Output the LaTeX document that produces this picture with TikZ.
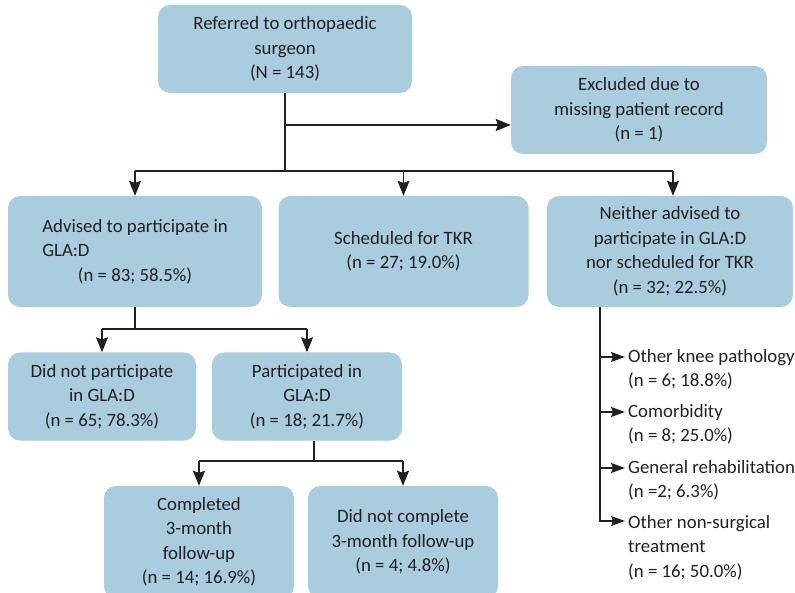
\documentclass[tikz,border=0pt]{standalone}
\usepackage{fontspec}
\setmainfont{Carlito}
\usepackage{calc}
\usetikzlibrary{arrows.meta}
\definecolor{boxblue}{HTML}{A9CCDF}
\definecolor{ink}{HTML}{231F20}
\begin{document}
\begin{tikzpicture}[x=1pt,y=-1pt,
  box/.style={fill=boxblue, rounded corners=12pt, align=center, text=ink, inner sep=0pt,
              font=\fontsize{18.8}{24.5}\selectfont},
  item/.style={anchor=west, align=left, text=ink, inner sep=0pt,
              font=\fontsize{18.8}{24.5}\selectfont},
  line/.style={draw=ink, line width=1.4pt},
  arr/.style={line, -{Stealth[length=15pt,width=12pt,inset=2pt]}},
  arrtwo/.style={line, -{Stealth[length=14pt,width=10pt,inset=2pt]}, shorten >=3pt}]
\useasboundingbox (0,0) rectangle (795,593);
\clip (0,0) rectangle (795,593);
% boxes
\node[box, minimum width=254, minimum height=88] (top) at (285,49) {Referred to orthopaedic\\surgeon\\(N = 143)};
\node[box, minimum width=256, minimum height=88] (excl) at (639,110) {Excluded due to\\missing patient record\\(n = 1)};
\node[box, minimum width=254, minimum height=111] (adv) at (135,251.5) {Advised to participate in\\\makebox[\widthof{Advised to participate in}][l]{GLA:D}\\(n = 83; 58.5\%)};
\node[box, minimum width=250, minimum height=111] (tkr) at (403.5,251.5) {Scheduled for TKR\\(n = 27; 19.0\%)};
\node[box, minimum width=246, minimum height=111] (nei) at (670,251.5) {Neither advised to\\participate in GLA:D\\nor scheduled for TKR\\(n = 32; 22.5\%)};
\node[box, minimum width=188, minimum height=88] (notp) at (102,396.5) {Did not participate\\in GLA:D\\(n = 65; 78.3\%)};
\node[box, minimum width=190, minimum height=88] (part) at (307,396.5) {Participated in\\GLA:D\\(n = 18; 21.7\%)};
\node[box, minimum width=190, minimum height=112] (comp) at (199,542) {Completed\\3-month\\follow-up\\(n = 14; 16.9\%)};
\node[box, minimum width=190, minimum height=112] (notc) at (403,542) {Did not complete\\3-month follow-up\\(n = 4; 4.8\%)};
% right list
\node[item] (k1) at (628,369.5) {Other knee pathology\\(n = 6; 18.8\%)};
\node[item] (k2) at (628,424.5) {Comorbidity\\(n = 8; 25.0\%)};
\node[item] (k3) at (628,480.5) {General rehabilitation\\(n =2; 6.3\%)};
\node[item] (k4) at (628,547.5) {Other non-surgical\\treatment\\(n = 16; 50.0\%)};
% connectors: top level
\coordinate (h1) at (285,125);
\coordinate (h2) at (285,171);
\draw[line] (top.south) -- (h2);
\draw[arr] (h1) -- (h1 -| excl.west);
\coordinate (dA) at (135,171);
\coordinate (dB) at (403.5,171);
\coordinate (dC) at (673,171);
\draw[line] (dA) -- (dC);
\draw[arr] (dA) -- (dA |- adv.north);
\draw[arr] (dB) -- (dB |- tkr.north);
\draw[arr] (dC) -- (dC |- nei.north);
% advised split
\coordinate (sA) at (135,329);
\draw[line] (adv.south) -- (sA);
\draw[line] (notp.north |- sA) -- (part.north |- sA);
\draw[arr] (notp.north |- sA) -- (notp.north);
\draw[arr] (part.north |- sA) -- (part.north);
% participated split
\coordinate (sE) at (314,461);
\draw[line] (sE |- part.south) -- (sE);
\draw[line] (comp.north |- sE) -- (notc.north |- sE);
\draw[arr] (comp.north |- sE) -- (comp.north);
\draw[arr] (notc.north |- sE) -- (notc.north);
% right list connectors
\coordinate (b1) at (600,357);
\coordinate (b2) at (600,412);
\coordinate (b3) at (600,468);
\coordinate (b4) at (600,521);
\draw[arrtwo] (nei.south -| b1) |- (k4.west |- b4);
\draw[arrtwo] (b1) -- (b1 -| k1.west);
\draw[arrtwo] (b2) -- (b2 -| k2.west);
\draw[arrtwo] (b3) -- (b3 -| k3.west);
\end{tikzpicture}
\end{document}
